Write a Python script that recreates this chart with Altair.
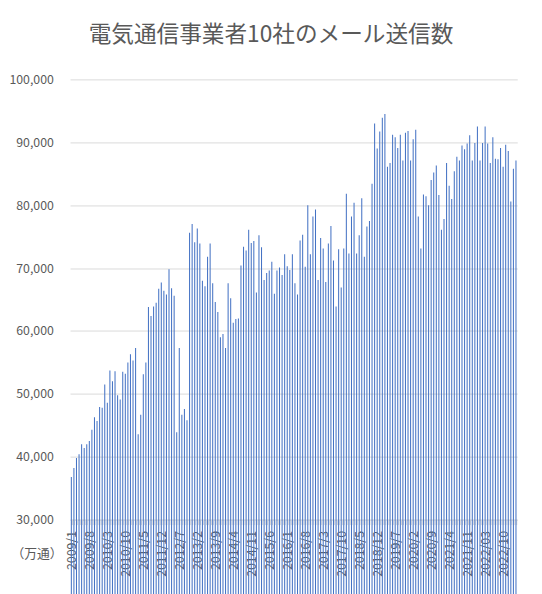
import json
import altair as alt
import pandas as pd

title_text = "電気通信事業者10社のメール送信数"
unit_label = "（万通）"

tick_labels = [
    "2009/1", "2009/8", "2010/3", "2010/10", "2011/5", "2011/12", "2012/7",
    "2013/2", "2013/9", "2014/4", "2014/11", "2015/6", "2016/1", "2016/8",
    "2017/3", "2017/10", "2018/5", "2018/12", "2019/7", "2020/2", "2020/9",
    "2021/4", "2021/11", "2022/03", "2022/10",
]

# monthly mail counts (万通)
mail_counts = [
    36800, 38200, 39800, 40400, 42000, 41400, 42000, 42500, 44300, 46300,
    45700, 47900, 47800, 51500, 48600, 53700, 52000, 53600, 49800, 49100,
    53500, 53200, 55000, 56300, 55300, 57300, 43600, 46700, 53100, 55000,
    63800, 62400, 63900, 64500, 66700, 67700, 66400, 65800, 69800, 66800,
    65600, 43900, 57300, 46700, 47600, 45800, 75600, 77000, 74100, 76300,
    73900, 68000, 67100, 71800, 73900, 67600, 64600, 63000, 59000, 59500,
    57300, 67600, 65200, 61300, 61900, 62000, 70400, 73400, 72800, 76100,
    74000, 74300, 66100, 75200, 73300, 68100, 69200, 69600, 71000, 65900,
    69600, 70100, 68900, 72200, 70300, 69700, 72200, 67600, 65800, 74400,
    75300, 70200, 80000, 72200, 78200, 79300, 68100, 74800, 73100, 67800,
    73900, 76700, 71200, 63900, 73000, 66900, 73100, 81800, 72300, 78200,
    80400, 72300, 75200, 81100, 71800, 76600, 77500, 83400, 93000, 89000,
    91700, 93900, 94500, 86100, 86700, 91200, 90800, 89100, 91200, 87100,
    91500, 91800, 87100, 90500, 92000, 78200, 73100, 81700, 81400, 80000,
    84000, 85200, 86300, 81600, 76100, 77800, 86700, 83100, 81000, 85400,
    87700, 87100, 89500, 88900, 89800, 91100, 87100, 89900, 92500, 87100,
    89900, 92500, 89800, 86700, 90800, 87400, 87300, 89100, 86100, 89600,
    88600, 80600, 85800, 87100,
]

y_ticks = [30000, 40000, 50000, 60000, 70000, 80000, 90000, 100000]

n = len(mail_counts)
df = pd.DataFrame({"i": list(range(n)), "v": mail_counts})

labels_js = json.dumps(tick_labels, ensure_ascii=False)
label_expr = (
    f"(datum.value % 7 == 0 && datum.value / 7 < {len(tick_labels)}) "
    f"? {labels_js}[datum.value / 7] : ''"
)

FONT = "Noto Sans CJK JP"
GRAY = "#595959"
LINE = "#D9D9D9"

chart = (
    alt.Chart(df)
    .mark_bar(color="#4472C4")
    .encode(
        x=alt.X(
            "i:O",
            scale=alt.Scale(paddingInner=0.6, paddingOuter=0.3),
            axis=alt.Axis(
                values=list(range(n)),
                labelExpr=label_expr,
                labelAngle=270,
                labelAlign="right",
                labelBaseline="middle",
                labelOverlap=False,
                tickBand="extent",
                tickSize=5,
                tickColor=LINE,
                domainColor=LINE,
                labelColor=GRAY,
                labelFontSize=12.5,
                labelFont=FONT,
                labelPadding=6,
                title=None,
                grid=False,
            ),
        ),
        y=alt.Y(
            "v:Q",
            scale=alt.Scale(domain=[30000, 100000], nice=False, zero=False),
            axis=alt.Axis(
                values=y_ticks,
                format=",d",
                grid=True,
                gridColor=LINE,
                domain=False,
                ticks=False,
                labelPadding=17,
                labelColor=GRAY,
                labelFontSize=12.5,
                labelFont=FONT,
                title=unit_label,
                titleAngle=0,
                titleX=-60,
                titleY=481,
                titleAlign="left",
                titleBaseline="middle",
                titleFontWeight="normal",
                titleColor=GRAY,
                titleFontSize=13,
                titleFont=FONT,
            ),
        ),
    )
    .properties(
        width=454,
        height=447,
        autosize=alt.AutoSizeParams(type="none"),
        padding={"left": 63, "top": 68, "right": 17, "bottom": 71},
        title=alt.TitleParams(
            title_text,
            fontSize=23,
            color=GRAY,
            fontWeight="normal",
            font=FONT,
            anchor="middle",
            offset=27,
            dx=-23,
        ),
    )
    .configure_view(stroke=None)
)

chart.save("out.html", embed_options={"renderer": "svg", "actions": False})
